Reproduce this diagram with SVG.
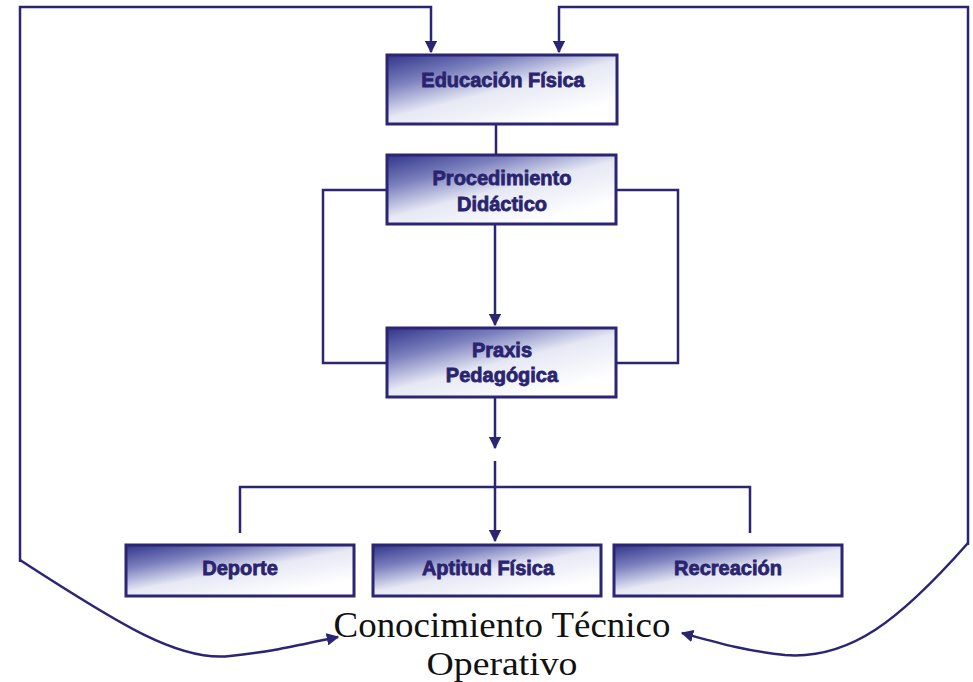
<svg xmlns="http://www.w3.org/2000/svg" width="973" height="682" viewBox="0 0 973 682">
<defs>
<linearGradient id="boxGrad" x1="0" y1="0" x2="0.75" y2="0.9">
<stop offset="0" stop-color="#30358a"/>
<stop offset="0.3" stop-color="#7a7fbd"/>
<stop offset="0.6" stop-color="#e6e8f4"/>
<stop offset="1" stop-color="#ffffff"/>
</linearGradient>
<marker id="arr" viewBox="0 0 10 10" refX="9" refY="5" markerWidth="5" markerHeight="5" markerUnits="strokeWidth" orient="auto">
<path d="M0,0 L10,5 L0,10 Z" fill="#2b2573"/>
</marker>
</defs>
<style>
.box{fill:url(#boxGrad);stroke:#2b2573;stroke-width:3}
.lbl{font-family:"Liberation Sans",Arial,sans-serif;font-weight:bold;font-size:20px;fill:#2a2470;stroke:#2a2470;stroke-width:0.8;text-anchor:middle}
.con{fill:none;stroke:#2b2573;stroke-width:2.5}
.big{font-family:"Liberation Serif","Times New Roman",serif;fill:#111;text-anchor:middle}
</style>
<rect width="973" height="682" fill="#ffffff"/>
<g id="connectors">
<path class="con" d="M20,562 L20,7 L431,7 L431,52" marker-end="url(#arr)"/>
<path class="con" d="M968,545 L968,7 L559,7 L559,52" marker-end="url(#arr)"/>
<path class="con" d="M496,124 L496,155"/>
<path class="con" d="M495,224 L495,325" marker-end="url(#arr)"/>
<path class="con" d="M387,190 L323,190 L323,363 L387,363"/>
<path class="con" d="M616,190 L678,190 L678,363 L616,363"/>
<path class="con" d="M495,397 L495,448" marker-end="url(#arr)"/>
<path class="con" d="M495,461 L495,541" marker-end="url(#arr)"/>
<path class="con" d="M240,533 L240,487 L750,487 L750,533"/>
<path class="con" d="M20,560 C120,625 180,662 230,656 C270,652 300,645 338,637" marker-end="url(#arr)"/>
<path class="con" d="M968,543 C900,620 850,660 785,655 C745,651 715,642 682,633" marker-end="url(#arr)"/>
</g>
<g id="educacion">
<rect class="box" x="387" y="55" width="230" height="69"/>
<text class="lbl" x="503" y="87">Educación Física</text>
</g>
<g id="procedimiento">
<rect class="box" x="387" y="155" width="229" height="69"/>
<text class="lbl" x="502" y="185">Procedimiento</text>
<text class="lbl" x="502" y="211">Didáctico</text>
</g>
<g id="praxis">
<rect class="box" x="387" y="328" width="229" height="69"/>
<text class="lbl" x="502" y="357">Praxis</text>
<text class="lbl" x="502" y="382">Pedagógica</text>
</g>
<g id="deporte">
<rect class="box" x="126" y="545" width="228" height="51"/>
<text class="lbl" x="240" y="575">Deporte</text>
</g>
<g id="aptitud">
<rect class="box" x="373" y="545" width="228" height="51"/>
<text class="lbl" x="488" y="575">Aptitud Física</text>
</g>
<g id="recreacion">
<rect class="box" x="614" y="545" width="228" height="51"/>
<text class="lbl" x="728" y="575">Recreación</text>
</g>
<g id="conocimiento">
<text class="big" x="502" y="637" font-size="36" textLength="337" lengthAdjust="spacingAndGlyphs">Conocimiento Técnico</text>
<text class="big" x="502" y="675" font-size="33" textLength="151" lengthAdjust="spacingAndGlyphs">Operativo</text>
</g>
</svg>
